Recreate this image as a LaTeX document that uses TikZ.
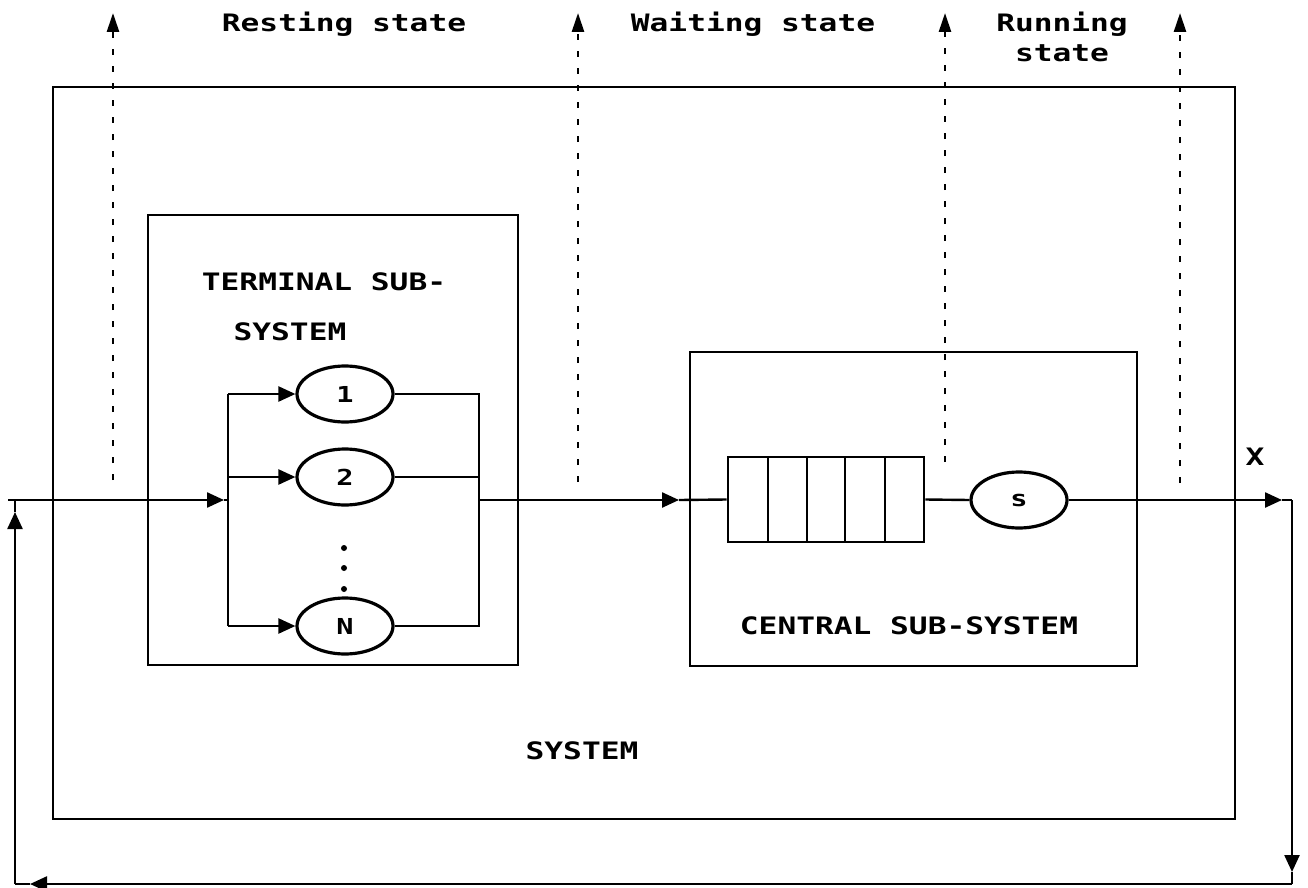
\documentclass[tikz,border=0pt]{standalone}
\usepackage{fontspec}
\usepackage{graphicx}
\usetikzlibrary{arrows.meta,shapes.geometric}
\newfontfamily\pixfont{DejaVu Sans Mono}
\newcommand{\px}[1]{\scalebox{1.3}[1]{#1}}
\begin{document}
\begin{tikzpicture}[x=1pt,y=-1pt,
  box/.style={draw, line width=2.6pt, inner sep=0pt},
  ln/.style={line width=2.4pt},
  tip/.style={-{Triangle[length=17pt,width=15pt]}},
  srv/.style={draw, ellipse, line width=3.2pt, minimum width=96pt, minimum height=56pt, inner sep=0pt, font=\pixfont\bfseries\fontsize{22}{24}\selectfont},
  lbl/.style={font=\pixfont\bfseries\fontsize{24}{26}\selectfont, inner sep=0pt, anchor=base},
  guide/.style={line width=2.6pt, dash pattern=on 6pt off 11pt},
  gtip/.style={-{Triangle[length=19pt,width=12pt]}}
]
\useasboundingbox (0,0) rectangle (1308,888);
% boxes
\node[box, minimum width=1182pt, minimum height=732pt] (system) at (644,453) {};
\node[box, minimum width=370pt, minimum height=450pt] (terminal) at (333,440) {};
\node[box, minimum width=447pt, minimum height=314pt] (central) at (913.5,509) {};
\node[box, minimum width=196pt, minimum height=85pt] (queue) at (826,499.5) {};
\draw[line width=2.4pt] (768,457) -- (768,542) (807,457) -- (807,542) (845,457) -- (845,542) (885,457) -- (885,542);
% servers
\node[srv] (e1) at (345,394) {\px{1}};
\node[srv] (e2) at (345,477) {\px{2}};
\node[srv] (eN) at (345,626) {\px{N}};
\node[srv] (s) at (1019,500) {\px{s}};
\fill (344,548) circle (3pt) (344,568) circle (3pt) (344,589) circle (3pt);
% coordinates
\coordinate (in) at (8,500);
\coordinate (inTip) at (224,500);
\coordinate (sp) at (228,500);
\coordinate (spT) at (228,394);
\coordinate (spM) at (228,477);
\coordinate (spB) at (228,626);
\coordinate (mgT) at (479,394);
\coordinate (mgM) at (479,477);
\coordinate (mgB) at (479,626);
\coordinate (mg) at (479,500);
\coordinate (cTip) at (679,500);
\coordinate (outTip) at (1282,500);
\coordinate (outR) at (1292,500);
\coordinate (dTip) at (1292,872);
\coordinate (BR) at (1292,884);
\coordinate (lTip) at (30,884);
\coordinate (BL) at (15,884);
\coordinate (uTip) at (15,512);
\coordinate (UL) at (15,500);
% terminal subsystem flows
\draw[ln,tip] (in) -- (inTip);
\draw[ln] (inTip) -- (sp);
\draw[ln] (spT) -- (spB);
\draw[ln,tip] (spT) -- (e1.west);
\draw[ln,tip] (spM) -- (e2.west);
\draw[ln,tip] (spB) -- (eN.west);
\draw[ln] (e1.east) -- (mgT) -- (mgB) -- (eN.east);
\draw[ln] (e2.east) -- (mgM);
% to central
\draw[ln,tip] (mg) -- (cTip);
\draw[ln] (cTip) -- (queue.west);
\draw[ln] (queue.east) -- (s.west);
\draw[ln,tip] (s.east) -- (outTip);
% feedback
\draw[ln] (outTip) -- (outR);
\draw[ln,tip] (outR) -- (dTip);
\draw[ln] (dTip) -- (BR);
\draw[ln,tip] (BR) -- (lTip);
\draw[ln] (lTip) -- (BL);
\draw[ln,tip] (BL) -- (uTip);
\draw[ln] (uTip) -- (UL);
% state guides
\coordinate (g1b) at (113,480); \coordinate (g1t) at (113,13);
\coordinate (g2b) at (578,482); \coordinate (g2t) at (578,13);
\coordinate (g3b) at (945,462); \coordinate (g3t) at (945,13);
\coordinate (g4b) at (1180,483); \coordinate (g4t) at (1180,13);
\draw[guide,gtip] (g1b) -- (g1t);
\draw[guide,gtip] (g2b) -- (g2t);
\draw[guide,gtip] (g3b) -- (g3t);
\draw[guide,gtip] (g4b) -- (g4t);
% labels
\node[lbl] (rest) at (344,32) {\px{Resting state}};
\node[lbl] (wait) at (753,32) {\px{Waiting state}};
\node[lbl] (run1) at (1062,32) {\px{Running}};
\node[lbl] (run2) at (1062,62) {\px{state}};
\node[lbl] (term1) at (324,290) {\px{TERMINAL SUB-}};
\node[lbl] (term2) at (290,340) {\px{SYSTEM}};
\node[lbl] (cent) at (909,634) {\px{CENTRAL SUB-SYSTEM}};
\node[lbl] (sys) at (582,759) {\px{SYSTEM}};
\node[lbl] (xl) at (1255,465) {\px{X}};
\end{tikzpicture}
\end{document}
